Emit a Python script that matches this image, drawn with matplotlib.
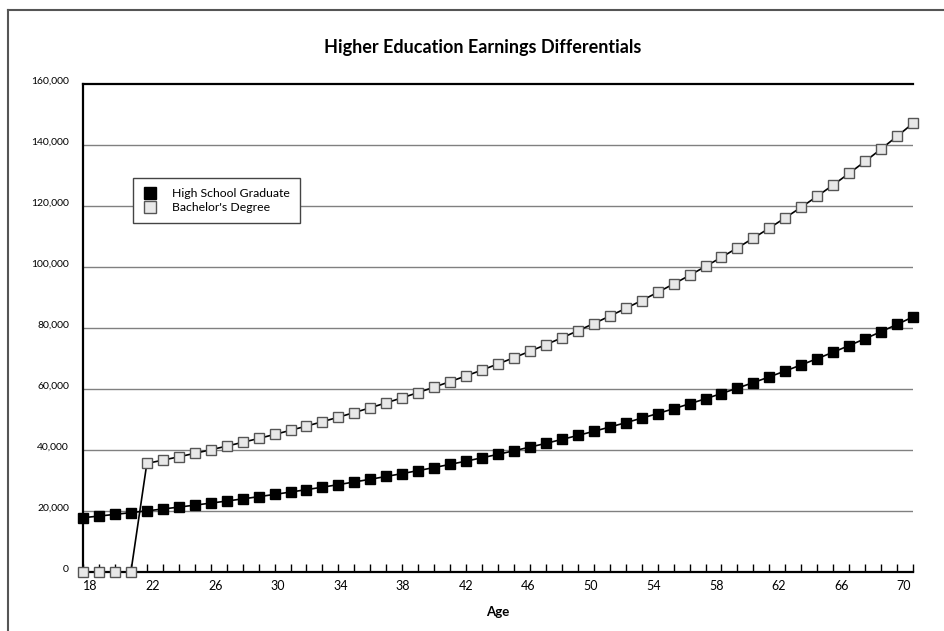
import matplotlib
matplotlib.use("Agg")
import matplotlib.pyplot as plt
from matplotlib.lines import Line2D
from matplotlib.transforms import ScaledTranslation

plt.rcParams['font.family'] = ['Lato', 'DejaVu Sans']

# data (dollars)
ages = list(range(18, 71))
high_school = [17800, 18340, 18890, 19460, 20050, 20650, 21280, 21920, 22580, 23260,
               23970, 24690, 25440, 26210, 27000, 27810, 28650, 29520, 30410, 31330,
               32270, 33250, 34250, 35290, 36350, 37450, 38580, 39750, 40950, 42180,
               43460, 44770, 46120, 47520, 48950, 50430, 51950, 53520, 55140, 56800,
               58520, 60290, 62110, 63980, 65920, 67910, 69960, 72070, 74250, 76490,
               78800, 81180, 83630]
bachelor = [0, 0, 0, 0, 35600, 36670, 37770, 38900, 40070, 41270,
            42510, 43780, 45100, 46450, 47840, 49280, 50760, 52280, 53850, 55470,
            57130, 58840, 60610, 62430, 64300, 66230, 68220, 70260, 72370, 74540,
            76780, 79080, 81460, 83900, 86420, 89010, 91680, 94430, 97260, 100180,
            103190, 106280, 109470, 112760, 116140, 119620, 123210, 126910, 130720, 134640,
            138680, 142840, 147120]
y_ticks = [0, 20000, 40000, 60000, 80000, 100000, 120000, 140000, 160000]
x_label_ages = list(range(18, 71, 4))

fig = plt.figure(figsize=(9.45, 6.31), dpi=100)
ax = fig.add_axes([83/945, 1-572/631, 830/945, 488/631])

ax.plot(ages, high_school, color='black', lw=1.2, marker='s', markersize=7.5,
        markerfacecolor='black', markeredgecolor='black', clip_on=False, zorder=3,
        label='High School Graduate')
ax.plot(ages, bachelor, color='black', lw=1.2, marker='s', markersize=7.5,
        markerfacecolor='#e8e8e8', markeredgecolor='#555555', markeredgewidth=1.0,
        clip_on=False, zorder=4, label="Bachelor's Degree")

ax.set_xlim(18, 70)
ax.set_ylim(0, 160000)

# horizontal grid
for v in y_ticks[1:-1]:
    ax.axhline(v, color='#808080', lw=1.0, zorder=1)

ax.set_yticks(y_ticks)
ax.set_yticklabels([f'{v:,}' for v in y_ticks], fontsize=7.5)
ax.tick_params(axis='y', length=0, pad=10)
for lbl in ax.get_yticklabels():
    lbl.set_transform(lbl.get_transform() + ScaledTranslation(0, 4/100, fig.dpi_scale_trans))

ax.set_xticks(ages)
ax.set_xticklabels([str(a) if a in x_label_ages else '' for a in ages], fontsize=9)
ax.tick_params(axis='x', direction='in', length=6, width=1, color='black', pad=6)
# category labels drift slightly relative to the markers, as in the original
for a, lbl in zip(ages, ax.get_xticklabels()):
    dx = (7 - 16 * (a - 18) / 52) / 100
    lbl.set_transform(lbl.get_transform() + ScaledTranslation(dx, 0, fig.dpi_scale_trans))

for side in ['left', 'bottom', 'top']:
    ax.spines[side].set_linewidth(1.6)
    ax.spines[side].set_color('black')
ax.spines['right'].set_visible(False)

ax.set_xlabel('Age', fontsize=9.5, fontweight='bold', labelpad=10)

handles = [Line2D([], [], ls='none', marker='s', markersize=8, markerfacecolor='black',
                  markeredgecolor='black'),
           Line2D([], [], ls='none', marker='s', markersize=8, markerfacecolor='#e8e8e8',
                  markeredgecolor='#555555')]
leg = ax.legend(handles, ['High School Graduate', "Bachelor's Degree"], loc='upper left',
                bbox_to_anchor=(50/830, (572-178)/488), borderaxespad=0, fontsize=8.8,
                frameon=True, fancybox=False, edgecolor='#444444', framealpha=1,
                handlelength=1.2, handletextpad=1.2, borderpad=0.8, labelspacing=0.3)
leg.get_frame().set_linewidth(1.0)
leg.set_zorder(5)

fig.text(483/945, 1-47/631, 'Higher Education Earnings Differentials', ha='center',
         va='center', fontsize=13, fontweight='bold')

# outer frame
fig.add_artist(Line2D([8/945, 1], [1-10/631, 1-10/631], color='#555555', lw=1.5))
fig.add_artist(Line2D([8/945, 8/945], [0, 1-10/631], color='#555555', lw=1.5))

fig.savefig('out.png', dpi=100)
